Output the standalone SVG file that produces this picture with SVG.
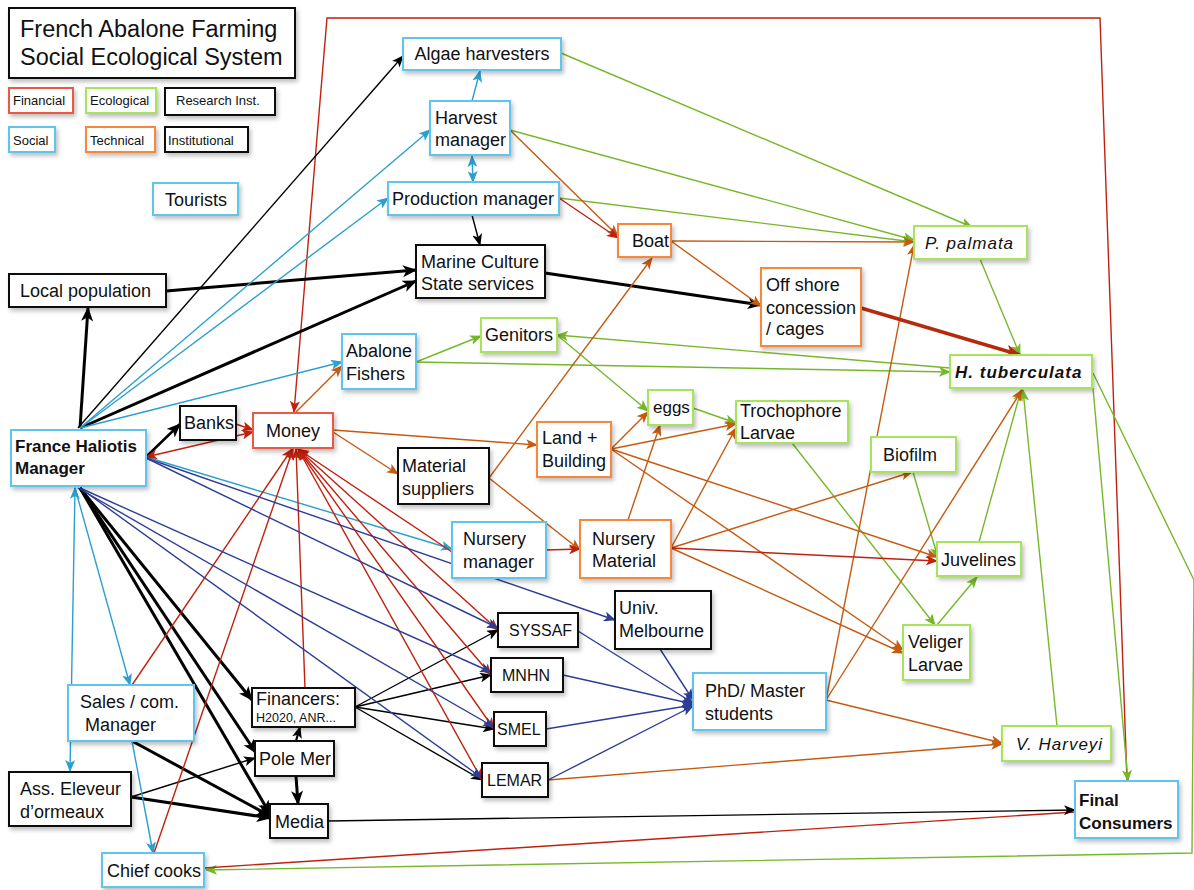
<svg xmlns="http://www.w3.org/2000/svg" width="1194" height="890" viewBox="0 0 1194 890">
<style>
.box{fill:#fff;stroke-width:2;filter:url(#sh)}
.bb{stroke:#5ec5ee}.bg{stroke:#a6e45c}.bo{stroke:#f5883a}.br{stroke:#ea5a43}.bk{stroke:#111}
.t{font-family:'Liberation Sans',Arial,sans-serif;font-size:18px;fill:#111}
.u{font-size:16px}
.s{font-size:13px}
.b{font-weight:bold;font-size:17px}
.i{font-style:italic;letter-spacing:1px;font-size:17px}
.c{fill:none;stroke-width:1.4}
.k{stroke:#000;marker-end:url(#mk)}
.K{stroke:#000;stroke-width:3;marker-end:url(#mK)}
.cb{stroke:#2b9fcf;marker-end:url(#mb)}
.cg{stroke:#76b82a;marker-end:url(#mg)}
.co{stroke:#c55a11;marker-end:url(#mo)}
.cr{stroke:#c0210f;marker-end:url(#mr)}
.cn{stroke:#2e3d96;marker-end:url(#mn)}
</style>
<defs>
<filter id="sh" x="-20%" y="-20%" width="150%" height="160%"><feDropShadow dx="2" dy="3" stdDeviation="2" flood-color="#000" flood-opacity="0.25"/></filter>
<marker id="mk" viewBox="0 0 12 10" refX="11" refY="5" markerWidth="12" markerHeight="10" markerUnits="userSpaceOnUse" orient="auto-start-reverse"><path d="M0,0L12,5L0,10L3,5z" fill="#000"/></marker>
<marker id="mK" viewBox="0 0 12 10" refX="11" refY="5" markerWidth="15" markerHeight="12" markerUnits="userSpaceOnUse" orient="auto-start-reverse"><path d="M0,0L12,5L0,10L3,5z" fill="#000"/></marker>
<marker id="mb" viewBox="0 0 12 10" refX="11" refY="5" markerWidth="12" markerHeight="10" markerUnits="userSpaceOnUse" orient="auto-start-reverse"><path d="M0,0L12,5L0,10L3,5z" fill="#2b9fcf"/></marker>
<marker id="mg" viewBox="0 0 12 10" refX="11" refY="5" markerWidth="12" markerHeight="10" markerUnits="userSpaceOnUse" orient="auto-start-reverse"><path d="M0,0L12,5L0,10L3,5z" fill="#76b82a"/></marker>
<marker id="mo" viewBox="0 0 12 10" refX="11" refY="5" markerWidth="12" markerHeight="10" markerUnits="userSpaceOnUse" orient="auto-start-reverse"><path d="M0,0L12,5L0,10L3,5z" fill="#c55a11"/></marker>
<marker id="mr" viewBox="0 0 12 10" refX="11" refY="5" markerWidth="12" markerHeight="10" markerUnits="userSpaceOnUse" orient="auto-start-reverse"><path d="M0,0L12,5L0,10L3,5z" fill="#c0210f"/></marker>
<marker id="mR" viewBox="0 0 12 10" refX="11" refY="5" markerWidth="16" markerHeight="13" markerUnits="userSpaceOnUse" orient="auto-start-reverse"><path d="M0,0L12,5L0,10L3,5z" fill="#b52a0c"/></marker>
<marker id="mn" viewBox="0 0 12 10" refX="11" refY="5" markerWidth="12" markerHeight="10" markerUnits="userSpaceOnUse" orient="auto-start-reverse"><path d="M0,0L12,5L0,10L3,5z" fill="#2e3d96"/></marker>
</defs>
<rect width="1194" height="890" fill="#fff"/>

<g id="connectors">
<polyline class="c cr" points="1127,781 1100,18 327,18 294,412"/>
<polyline class="c cg" points="1093,373 1194,580 1192,853 206,870"/>
<line class="c" stroke="#c0210f" x1="204" y1="868" x2="1075" y2="812"/>
<line class="c k" x1="78" y1="428" x2="403" y2="56"/>
<line class="c k" x1="472" y1="215" x2="480" y2="245"/>
<line class="c k" x1="355" y1="707" x2="498" y2="630"/>
<line class="c k" x1="355" y1="707" x2="491" y2="675"/>
<line class="c k" x1="355" y1="707" x2="494" y2="729"/>
<line class="c k" x1="355" y1="707" x2="482" y2="780"/>
<line class="c k" x1="131" y1="797" x2="255" y2="758"/>
<line class="c k" style="stroke-width:2.2" x1="296" y1="741" x2="300" y2="727"/>
<line class="c k" x1="328" y1="821" x2="1075" y2="810"/>
<line class="c K" x1="80" y1="428" x2="88" y2="308"/>
<line class="c K" x1="166" y1="291" x2="416" y2="270"/>
<line class="c K" x1="80" y1="428" x2="416" y2="281"/>
<line class="c K" x1="545" y1="273" x2="761" y2="305"/>
<line class="c K" style="stroke-width:2.5" x1="146" y1="457" x2="180" y2="424"/>
<line class="c K" x1="80" y1="488" x2="252" y2="700"/>
<line class="c K" x1="80" y1="488" x2="256" y2="753"/>
<line class="c K" x1="80" y1="488" x2="270" y2="814"/>
<line class="c K" x1="132" y1="741" x2="270" y2="816"/>
<line class="c K" x1="131" y1="797" x2="270" y2="818"/>
<line class="c K" x1="296" y1="776" x2="298" y2="804"/>
<line class="c cb" x1="80" y1="428" x2="430" y2="130"/>
<line class="c cb" x1="80" y1="428" x2="388" y2="198"/>
<line class="c cb" x1="80" y1="428" x2="342" y2="362"/>
<line class="c cb" x1="472" y1="101" x2="480" y2="71"/>
<line class="c cb" style="marker-start:url(#mb)" x1="472" y1="156" x2="473" y2="182"/>
<line class="c cb" x1="146" y1="457" x2="452" y2="549"/>
<line class="c cb" x1="75" y1="488" x2="130" y2="685"/>
<line class="c cb" style="marker-start:url(#mb)" x1="75" y1="488" x2="70" y2="771"/>
<line class="c cb" x1="132" y1="741" x2="153" y2="853"/>
<line class="c cg" x1="561" y1="53" x2="972" y2="227"/>
<line class="c cg" x1="510" y1="130" x2="914" y2="240"/>
<line class="c cg" x1="559" y1="198" x2="914" y2="242"/>
<line class="c cg" x1="980" y1="259" x2="1020" y2="355"/>
<line class="c cg" x1="416" y1="362" x2="481" y2="336"/>
<line class="c cg" x1="416" y1="362" x2="950" y2="372"/>
<line class="c cg" x1="950" y1="368" x2="557" y2="335"/>
<line class="c cg" x1="557" y1="335" x2="648" y2="411"/>
<line class="c cg" x1="693" y1="408" x2="736" y2="423"/>
<line class="c cg" x1="792" y1="443" x2="935" y2="625"/>
<line class="c cg" x1="937" y1="625" x2="977" y2="577"/>
<line class="c cg" x1="913" y1="472" x2="938" y2="558"/>
<line class="c cg" x1="979" y1="542" x2="1021" y2="390"/>
<line class="c cg" x1="1057" y1="726" x2="1023" y2="390"/>
<line class="c cg" x1="1093" y1="388" x2="1128" y2="781"/>
<line class="c co" x1="296" y1="412" x2="342" y2="366"/>
<line class="c co" x1="333" y1="430" x2="537" y2="445"/>
<line class="c co" x1="333" y1="432" x2="398" y2="474"/>
<line class="c co" x1="489" y1="478" x2="652" y2="258"/>
<line class="c co" x1="489" y1="478" x2="580" y2="550"/>
<line class="c co" x1="510" y1="130" x2="618" y2="236"/>
<line class="c co" x1="671" y1="241" x2="914" y2="242"/>
<line class="c co" x1="671" y1="241" x2="761" y2="306"/>
<line class="c co" x1="611" y1="449" x2="648" y2="412"/>
<line class="c co" x1="611" y1="449" x2="736" y2="424"/>
<line class="c co" x1="611" y1="449" x2="937" y2="557"/>
<line class="c co" x1="611" y1="449" x2="903" y2="650"/>
<line class="c co" x1="628" y1="520" x2="660" y2="425"/>
<line class="c co" x1="671" y1="548" x2="736" y2="428"/>
<line class="c co" x1="671" y1="548" x2="912" y2="472"/>
<line class="c co" x1="671" y1="548" x2="903" y2="653"/>
<line class="c co" x1="826" y1="700" x2="914" y2="245"/>
<line class="c co" x1="826" y1="700" x2="1022" y2="390"/>
<line class="c co" x1="826" y1="700" x2="1002" y2="743"/>
<line class="c co" x1="548" y1="780" x2="1002" y2="744"/>
<line class="c cr" x1="559" y1="198" x2="618" y2="238"/>
<line class="c cr" x1="546" y1="550" x2="580" y2="549"/>
<line class="c cr" x1="671" y1="548" x2="937" y2="561"/>
<line class="c cr" x1="236" y1="424" x2="253" y2="430"/>
<line class="c cr" style="marker-start:url(#mr)" x1="146" y1="457" x2="253" y2="432"/>
<line class="c" style="stroke:#b52a0c;stroke-width:3.5;marker-end:url(#mR)" x1="861" y1="308" x2="1020" y2="355"/>
<line class="c cr" x1="132" y1="685" x2="292" y2="449"/>
<line class="c cr" x1="154" y1="853" x2="293" y2="449"/>
<line class="c cr" x1="305" y1="688" x2="296" y2="449"/>
<line class="c cr" x1="452" y1="552" x2="298" y2="449"/>
<line class="c cr" style="marker-start:url(#mr)" x1="298" y1="449" x2="498" y2="630"/>
<line class="c cr" style="marker-start:url(#mr)" x1="298" y1="449" x2="491" y2="675"/>
<line class="c cr" style="marker-start:url(#mr)" x1="298" y1="449" x2="494" y2="729"/>
<line class="c cr" style="marker-start:url(#mr)" x1="298" y1="449" x2="482" y2="780"/>
<line class="c cn" x1="146" y1="458" x2="615" y2="620"/>
<line class="c cn" x1="146" y1="458" x2="498" y2="628"/>
<line class="c cn" x1="80" y1="488" x2="491" y2="672"/>
<line class="c cn" x1="78" y1="488" x2="494" y2="727"/>
<line class="c cn" x1="80" y1="488" x2="482" y2="778"/>
<line class="c cn" x1="578" y1="631" x2="693" y2="703"/>
<line class="c cn" x1="563" y1="675" x2="693" y2="704"/>
<line class="c cn" x1="546" y1="729" x2="693" y2="705"/>
<line class="c cn" x1="548" y1="780" x2="693" y2="706"/>
<line class="c cn" x1="660" y1="649" x2="693" y2="700"/>
</g>

<g id="title"><rect class="box bk" x="9" y="8" width="286" height="70"/>
<text class="t" style="font-size:23.5px" x="20" y="37">French Abalone Farming</text>
<text class="t" style="font-size:23.5px" x="20" y="65">Social Ecological System</text></g>

<g id="legend-financial"><rect class="box br" x="9" y="88" width="64" height="25"/><text class="t s" x="13" y="105">Financial</text></g>
<g id="legend-ecological"><rect class="box bg" x="86" y="88" width="70" height="25"/><text class="t s" x="90" y="105">Ecological</text></g>
<g id="legend-research"><rect class="box bk" x="165" y="88" width="110" height="27"/><text class="t s" x="176" y="105">Research Inst.</text></g>
<g id="legend-social"><rect class="box bb" x="9" y="127" width="46" height="25"/><text class="t s" x="13" y="145">Social</text></g>
<g id="legend-technical"><rect class="box bo" x="86" y="127" width="69" height="25"/><text class="t s" x="90" y="145">Technical</text></g>
<g id="legend-institutional"><rect class="box bk" x="165" y="127" width="83" height="25"/><text class="t s" x="168" y="145">Institutional</text></g>

<g id="tourists"><rect class="box bb" x="153" y="183" width="85" height="32"/><text class="t" x="165" y="206">Tourists</text></g>
<g id="algae-harvesters"><rect class="box bb" x="403" y="38" width="158" height="32"/><text class="t" x="482" y="60" text-anchor="middle">Algae harvesters</text></g>
<g id="harvest-manager"><rect class="box bb" x="430" y="101" width="80" height="54"/><text class="t" x="435" y="124">Harvest</text><text class="t" x="435" y="146">manager</text></g>
<g id="production-manager"><rect class="box bb" x="388" y="182" width="171" height="33"/><text class="t" x="473" y="205" text-anchor="middle">Production manager</text></g>
<g id="marine-culture"><rect class="box bk" x="416" y="245" width="129" height="53"/><text class="t" x="421" y="268">Marine Culture</text><text class="t" x="421" y="290">State services</text></g>
<g id="boat"><rect class="box bo" x="618" y="224" width="53" height="33"/><text class="t" x="632" y="247">Boat</text></g>
<g id="p-palmata"><rect class="box bg" x="914" y="226" width="113" height="33"/><text class="t i" x="925" y="249">P. palmata</text></g>
<g id="offshore"><rect class="box bo" x="761" y="268" width="100" height="78"/><text class="t" x="766" y="291">Off shore</text><text class="t" x="766" y="314">concession</text><text class="t" x="766" y="335">/ cages</text></g>
<g id="local-population"><rect class="box bk" x="9" y="274" width="157" height="33"/><text class="t" x="20" y="297">Local population</text></g>
<g id="abalone-fishers"><rect class="box bb" x="342" y="334" width="74" height="55"/><text class="t" x="346" y="357">Abalone</text><text class="t" x="346" y="380">Fishers</text></g>
<g id="genitors"><rect class="box bg" x="481" y="318" width="76" height="34"/><text class="t" x="485" y="341">Genitors</text></g>
<g id="h-tuberculata"><rect class="box bg" x="950" y="355" width="142" height="33"/><text class="t b i" x="955" y="378">H. tuberculata</text></g>
<g id="eggs"><rect class="box bg" x="648" y="390" width="45" height="35"/><text class="t" style="font-size:17px" x="653" y="413">eggs</text></g>
<g id="trochophore"><rect class="box bg" x="736" y="401" width="112" height="42"/><text class="t" x="740" y="417">Trochophore</text><text class="t" x="740" y="439">Larvae</text></g>
<g id="banks"><rect class="box bk" x="180" y="406" width="56" height="34"/><text class="t" x="184" y="429">Banks</text></g>
<g id="money"><rect class="box br" x="253" y="413" width="80" height="35"/><text class="t" x="293" y="437" text-anchor="middle">Money</text></g>
<g id="france-haliotis"><rect class="box bb" x="11" y="430" width="135" height="56"/><text class="t b" x="15" y="452">France Haliotis</text><text class="t b" x="15" y="474">Manager</text></g>
<g id="land-building"><rect class="box bo" x="537" y="422" width="74" height="55"/><text class="t" x="542" y="444">Land +</text><text class="t" x="542" y="467">Building</text></g>
<g id="material-suppliers"><rect class="box bk" x="398" y="448" width="91" height="56"/><text class="t" x="402" y="472">Material</text><text class="t" x="402" y="495">suppliers</text></g>
<g id="biofilm"><rect class="box bg" x="871" y="437" width="85" height="35"/><text class="t" x="883" y="461">Biofilm</text></g>
<g id="nursery-manager"><rect class="box bb" x="452" y="522" width="94" height="56"/><text class="t" x="463" y="545">Nursery</text><text class="t" x="463" y="568">manager</text></g>
<g id="nursery-material"><rect class="box bo" x="580" y="520" width="91" height="58"/><text class="t" x="592" y="545">Nursery</text><text class="t" x="592" y="567">Material</text></g>
<g id="juvelines"><rect class="box bg" x="937" y="542" width="84" height="34"/><text class="t" x="941" y="566">Juvelines</text></g>
<g id="univ-melbourne"><rect class="box bk" x="615" y="591" width="96" height="58"/><text class="t" x="619" y="614">Univ.</text><text class="t" x="619" y="637">Melbourne</text></g>
<g id="syssaf"><rect class="box bk" x="498" y="613" width="80" height="34"/><text class="t u" x="509" y="636">SYSSAF</text></g>
<g id="veliger"><rect class="box bg" x="903" y="625" width="67" height="55"/><text class="t" x="908" y="648">Veliger</text><text class="t" x="908" y="671">Larvae</text></g>
<g id="mnhn"><rect class="box bk" x="491" y="658" width="72" height="34"/><text class="t u" x="502" y="681">MNHN</text></g>
<g id="phd"><rect class="box bb" x="693" y="673" width="133" height="57"/><text class="t" x="705" y="697">PhD/ Master</text><text class="t" x="705" y="720">students</text></g>
<g id="sales"><rect class="box bb" x="68" y="685" width="126" height="56"/><text class="t" x="80" y="708">Sales / com.</text><text class="t" x="85" y="731">Manager</text></g>
<g id="financers"><rect class="box bk" x="252" y="688" width="103" height="39"/><text class="t" x="256" y="705">Financers:</text><text class="t" style="font-size:12.5px" x="256" y="722">H2020, ANR...</text></g>
<g id="smel"><rect class="box bk" x="494" y="712" width="52" height="34"/><text class="t u" x="497" y="735">SMEL</text></g>
<g id="v-harveyi"><rect class="box bg" x="1002" y="726" width="109" height="35"/><text class="t i" x="1016" y="750">V. Harveyi</text></g>
<g id="pole-mer"><rect class="box bk" x="255" y="741" width="79" height="35"/><text class="t" x="259" y="765">Pole Mer</text></g>
<g id="lemar"><rect class="box bk" x="482" y="763" width="66" height="34"/><text class="t u" x="487" y="786">LEMAR</text></g>
<g id="ass-eleveur"><rect class="box bk" x="9" y="772" width="122" height="54"/><text class="t" x="20" y="795">Ass. Eleveur</text><text class="t" x="20" y="818">d’ormeaux</text></g>
<g id="media"><rect class="box bk" x="270" y="804" width="58" height="34"/><text class="t" x="275" y="828">Media</text></g>
<g id="final-consumers"><rect class="box bb" x="1075" y="781" width="103" height="57"/><text class="t b" x="1079" y="806">Final</text><text class="t b" x="1079" y="829">Consumers</text></g>
<g id="chief-cooks"><rect class="box bb" x="102" y="853" width="102" height="34"/><text class="t" x="107" y="877">Chief cooks</text></g>
</svg>
